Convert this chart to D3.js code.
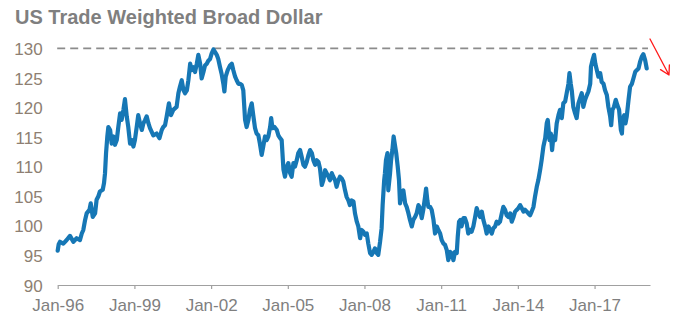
<!DOCTYPE html>
<html>
<head>
<meta charset="utf-8">
<script src="https://cdn.jsdelivr.net/npm/d3@7"></script>
<style>
  html, body { margin: 0; padding: 0; background: #ffffff; }
  svg { display: block; font-family: "Liberation Sans", Arial, Helvetica, sans-serif; }
</style>
</head>
<body>
<svg id="chart" width="682" height="328"></svg>
<script>
// ---- data -------------------------------------------------------------
const titleText = "US Trade Weighted Broad Dollar";
const yTickValues = [90, 95, 100, 105, 110, 115, 120, 125, 130];
const xTickYears = [1996, 1999, 2002, 2005, 2008, 2011, 2014, 2017];
const ceilingLevel = 130;

// observation dates as decimal years
const obsYear = [
  1996.00, 1996.04, 1996.09, 1996.22, 1996.35, 1996.48, 1996.61, 1996.74, 1996.87, 1996.94,
  1997.00, 1997.07, 1997.13, 1997.24, 1997.29, 1997.37, 1997.46, 1997.52, 1997.59, 1997.65,
  1997.76, 1997.81, 1997.85, 1997.89, 1997.94, 1997.98, 1998.05, 1998.11, 1998.18, 1998.24,
  1998.31, 1998.37, 1998.44, 1998.50, 1998.57, 1998.63, 1998.70, 1998.76, 1998.83, 1998.89,
  1998.96, 1999.02, 1999.09, 1999.15, 1999.22, 1999.29, 1999.35, 1999.42, 1999.48, 1999.55,
  1999.61, 1999.74, 1999.87, 1999.98, 2000.07, 2000.13,
  2000.20, 2000.26, 2000.35, 2000.43, 2000.52, 2000.65, 2000.72, 2000.78, 2000.85, 2000.92,
  2000.98, 2001.05, 2001.11, 2001.18, 2001.24, 2001.31, 2001.37, 2001.44, 2001.50, 2001.57,
  2001.63, 2001.70, 2001.76, 2001.83, 2001.89, 2001.96, 2002.02, 2002.09, 2002.15, 2002.22,
  2002.28, 2002.35, 2002.41, 2002.48, 2002.52, 2002.57, 2002.65, 2002.74, 2002.81, 2002.87,
  2002.94, 2003.00, 2003.07, 2003.13, 2003.20, 2003.26, 2003.33, 2003.39, 2003.46, 2003.52,
  2003.59, 2003.65, 2003.72, 2003.78, 2003.85, 2003.91, 2003.98, 2004.04, 2004.11, 2004.18,
  2004.24, 2004.31, 2004.35, 2004.40, 2004.48, 2004.57, 2004.63,
  2004.70, 2004.76, 2004.83, 2004.89, 2004.96, 2005.02, 2005.09, 2005.15, 2005.22, 2005.28,
  2005.35, 2005.41, 2005.48, 2005.54, 2005.61, 2005.67, 2005.74, 2005.81, 2005.87, 2005.94,
  2006.00, 2006.07, 2006.13, 2006.20, 2006.26, 2006.33, 2006.39, 2006.46, 2006.52, 2006.59,
  2006.65, 2006.72, 2006.78, 2006.85, 2006.91, 2006.98, 2007.04, 2007.11, 2007.17, 2007.24,
  2007.30, 2007.37, 2007.43, 2007.50, 2007.57, 2007.63, 2007.70, 2007.76, 2007.83, 2007.89,
  2007.96, 2008.02, 2008.09, 2008.15, 2008.22, 2008.28, 2008.35, 2008.41, 2008.48, 2008.54,
  2008.61, 2008.67, 2008.71, 2008.77, 2008.80, 2008.84, 2008.90, 2008.93, 2009.00, 2009.04,
  2009.09, 2009.14,
  2009.20, 2009.24, 2009.30, 2009.35, 2009.39, 2009.46, 2009.52, 2009.59, 2009.65, 2009.72,
  2009.78, 2009.85, 2009.91, 2009.98, 2010.04, 2010.11, 2010.17, 2010.24, 2010.30, 2010.37,
  2010.41, 2010.46, 2010.50, 2010.57, 2010.63, 2010.70, 2010.76, 2010.83, 2010.89, 2010.96,
  2011.02, 2011.09, 2011.15, 2011.22, 2011.28, 2011.35, 2011.41, 2011.48, 2011.54, 2011.61,
  2011.65, 2011.70, 2011.75, 2011.80, 2011.87, 2011.93, 2012.00, 2012.06, 2012.13, 2012.19,
  2012.26, 2012.33, 2012.39, 2012.46, 2012.52, 2012.59, 2012.65, 2012.72, 2012.78, 2012.85,
  2012.91, 2012.98, 2013.04, 2013.11, 2013.17, 2013.24, 2013.30, 2013.37, 2013.43, 2013.50,
  2013.56, 2013.63,
  2013.70, 2013.76, 2013.83, 2013.89, 2013.96, 2014.02, 2014.09, 2014.15, 2014.22, 2014.28,
  2014.35, 2014.41, 2014.48, 2014.54, 2014.61, 2014.67, 2014.74, 2014.80, 2014.87, 2014.93,
  2015.00, 2015.07, 2015.13, 2015.17, 2015.24, 2015.29, 2015.34, 2015.39, 2015.46, 2015.52,
  2015.59, 2015.65, 2015.72, 2015.78, 2015.85, 2015.91, 2015.98, 2016.02, 2016.07, 2016.11,
  2016.17, 2016.24, 2016.30, 2016.37, 2016.43, 2016.50, 2016.56, 2016.63, 2016.70, 2016.76,
  2016.83, 2016.86, 2016.92, 2016.98, 2017.03, 2017.09, 2017.15, 2017.22, 2017.28, 2017.35,
  2017.41, 2017.48, 2017.54, 2017.61, 2017.65, 2017.70, 2017.76, 2017.83, 2017.89, 2017.96,
  2018.03, 2018.07, 2018.10, 2018.16, 2018.21, 2018.26, 2018.33, 2018.39, 2018.46, 2018.52,
  2018.59, 2018.65, 2018.72, 2018.78, 2018.85, 2018.91, 2018.98, 2019.04
];

// broad trade-weighted dollar index level
const obsIndex = [
  95.8, 96.9, 97.3, 97.0, 97.6, 98.3, 97.3, 97.9, 97.6, 98.7,
  99.3, 101.0, 102.1, 102.7, 103.8, 101.5, 102.1, 104.4, 105.0, 105.8,
  106.1, 107.2, 108.9, 112.3, 115.1, 116.7, 116.2, 113.9, 115.1, 113.7,
  114.5, 116.7, 119.0, 117.9, 119.6, 121.4, 118.5, 116.7, 113.9, 114.5,
  113.4, 114.5, 116.7, 118.7, 117.3, 116.2, 117.3, 117.9, 118.5, 117.3,
  116.5, 115.3, 115.6, 114.8, 116.2, 116.7,
  117.0, 118.4, 120.7, 118.7, 119.6, 120.1, 122.4, 123.5, 124.6, 122.9,
  122.4, 122.9, 124.6, 127.4, 126.3, 126.8, 126.0, 127.4, 128.9, 127.4,
  124.9, 126.0, 127.1, 127.4, 127.9, 128.2, 129.1, 129.8, 129.4, 128.9,
  128.2, 126.8, 125.7, 124.0, 122.7, 125.2, 126.3, 127.1, 127.4, 126.3,
  125.2, 124.6, 124.0, 124.0, 123.8, 122.9, 117.9, 116.7, 117.9, 119.6,
  120.7, 118.7, 116.5, 115.6, 115.3, 113.9, 112.0, 113.4, 115.1, 114.5,
  115.1, 116.7, 118.2, 116.5, 116.7, 116.2, 115.3,
  114.8, 114.5, 109.5, 108.3, 110.0, 110.6, 108.9, 108.3, 110.6, 110.0,
  111.1, 112.3, 112.8, 111.7, 110.3, 110.0, 110.8, 112.0, 112.8, 112.3,
  111.1, 110.3, 111.1, 110.8, 109.7, 106.9, 107.7, 109.4, 108.9, 108.3,
  107.7, 108.9, 108.3, 107.7, 106.6, 107.7, 108.3, 108.0, 107.5, 106.0,
  104.9, 104.3, 103.5, 104.3, 104.1, 102.1, 100.7, 99.9, 97.9, 99.3,
  99.0, 98.5, 98.7, 97.0, 95.4, 95.1, 95.6, 96.2, 95.4, 95.1,
  97.3, 99.6, 103.5, 107.7, 108.9, 111.1, 112.3, 106.0, 108.9, 111.1,
  112.8, 115.1,
  113.4, 112.3, 110.0, 107.7, 103.8, 105.5, 106.0, 103.8, 103.2, 102.1,
  101.0, 99.9, 101.0, 101.5, 102.1, 103.5, 103.0, 101.3, 102.7, 104.9,
  106.3, 104.3, 103.2, 103.2, 102.7, 101.0, 98.7, 99.9, 99.3, 98.7,
  97.6, 97.0, 96.8, 95.9, 94.2, 95.6, 95.4, 94.2, 95.6, 95.4,
  98.2, 100.7, 101.0, 99.9, 101.3, 101.3, 100.4, 98.7, 99.3, 99.0,
  99.9, 101.5, 103.0, 102.1, 101.5, 102.4, 101.0, 99.9, 98.7, 99.9,
  99.3, 98.7, 99.6, 99.9, 100.7, 100.4, 100.7, 102.1, 103.2, 102.7,
  101.8, 101.5,
  102.1, 100.7, 101.5, 102.4, 102.7, 103.0, 103.5, 103.0, 102.4, 102.7,
  102.4, 102.1, 101.8, 102.4, 103.2, 104.9, 106.6, 107.7, 109.4, 111.1,
  113.4, 114.8, 117.3, 117.9, 114.5, 115.6, 112.8, 115.1, 114.5, 117.3,
  118.7, 119.6, 118.2, 120.7, 121.0, 122.4, 124.0, 125.8, 124.0, 122.9,
  120.1, 119.0, 118.2, 120.7, 121.5, 122.4, 120.1, 121.3, 122.1, 122.7,
  124.0, 126.9, 128.0, 128.9, 127.4, 126.3, 125.2, 125.8, 124.3, 124.0,
  122.9, 122.1, 120.1, 118.5, 117.0, 119.6, 120.1, 121.3, 120.4, 119.6,
  116.2, 115.6, 117.9, 118.7, 117.3, 118.5, 121.3, 123.5, 124.0, 124.9,
  126.0, 126.3, 126.6, 127.7, 128.6, 129.0, 128.0, 126.6
];

// ---- helpers ----------------------------------------------------------
function yearToDate(dy) {
  const y = Math.floor(dy);
  const start = Date.UTC(y, 0, 1), end = Date.UTC(y + 1, 0, 1);
  return new Date(start + (dy - y) * (end - start));
}

const series = obsYear.map((t, i) => ({ date: yearToDate(t), value: obsIndex[i] }));

// ---- layout -----------------------------------------------------------
const svg = d3.select("#chart");
const plot = { left: 57.7, right: 650, top: 48.3, bottom: 285 };

const x = d3.scaleUtc()
  .domain([yearToDate(1996), yearToDate(2019.17)])
  .range([plot.left, plot.right]);

const y = d3.scaleLinear()
  .domain([90, 130])
  .range([plot.bottom, plot.top]);

// title
svg.append("text")
  .attr("x", 15)
  .attr("y", 24)
  .attr("fill", "#7f7f7f")
  .style("font-size", "20px")
  .style("font-weight", "bold")
  .text(titleText);

// y-axis labels (no axis line)
const yAxis = svg.append("g")
  .attr("transform", `translate(${plot.left},0)`)
  .call(d3.axisLeft(y).tickValues(yTickValues).tickSize(0).tickPadding(15));
yAxis.select(".domain").remove();
yAxis.selectAll("text")
  .attr("dy", "0.36em")
  .attr("fill", "#8e7f72")
  .style("font-size", "17px")
  .style("font-family", "'Liberation Sans', Arial, sans-serif");

// x axis
const xAxis = svg.append("g")
  .attr("transform", `translate(0,${plot.bottom})`)
  .call(d3.axisBottom(x)
    .tickValues(xTickYears.map(yr => new Date(Date.UTC(yr, 0, 1))))
    .tickFormat(d3.utcFormat("%b-%y"))
    .tickSize(4)
    .tickSizeOuter(0)
    .tickPadding(10));
xAxis.select(".domain").attr("stroke", "#a0a0a0").attr("stroke-width", 1.2);
xAxis.selectAll(".tick line").attr("stroke", "#a0a0a0").attr("stroke-width", 1.2);
xAxis.selectAll("text")
  .attr("fill", "#7f7f7f")
  .style("font-size", "17px")
  .style("font-family", "'Liberation Sans', Arial, sans-serif");

// dashed reference line at the 2002 high
svg.append("line")
  .attr("x1", plot.left - 0.5)
  .attr("x2", plot.right - 2)
  .attr("y1", y(ceilingLevel))
  .attr("y2", y(ceilingLevel))
  .attr("stroke", "#8c8c8c")
  .attr("stroke-width", 1.8)
  .attr("stroke-dasharray", "8,5");

// index line
svg.append("path")
  .datum(series)
  .attr("fill", "none")
  .attr("stroke", "#1677b5")
  .attr("stroke-width", 4.2)
  .attr("stroke-linejoin", "round")
  .attr("stroke-linecap", "round")
  .attr("d", d3.line().x(d => x(d.date)).y(d => y(d.value)));

// red downward arrow to the right of the latest reading
const arrowStart = [plot.right, 39];
const arrowTip = [plot.right + 19, 75];
const ang = Math.atan2(arrowTip[1] - arrowStart[1], arrowTip[0] - arrowStart[0]);
const headLen = 10, spread = Math.PI / 6;
const arm1 = [arrowTip[0] - headLen * Math.cos(ang - spread), arrowTip[1] - headLen * Math.sin(ang - spread)];
const arm2 = [arrowTip[0] - headLen * Math.cos(ang + spread), arrowTip[1] - headLen * Math.sin(ang + spread)];
svg.append("path")
  .attr("fill", "none")
  .attr("stroke", "#ff1a1a")
  .attr("stroke-width", 1.3)
  .attr("stroke-linecap", "round")
  .attr("stroke-linejoin", "round")
  .attr("d", `M${arrowStart}L${arrowTip}M${arm1}L${arrowTip}L${arm2}`);
</script>
</body>
</html>
